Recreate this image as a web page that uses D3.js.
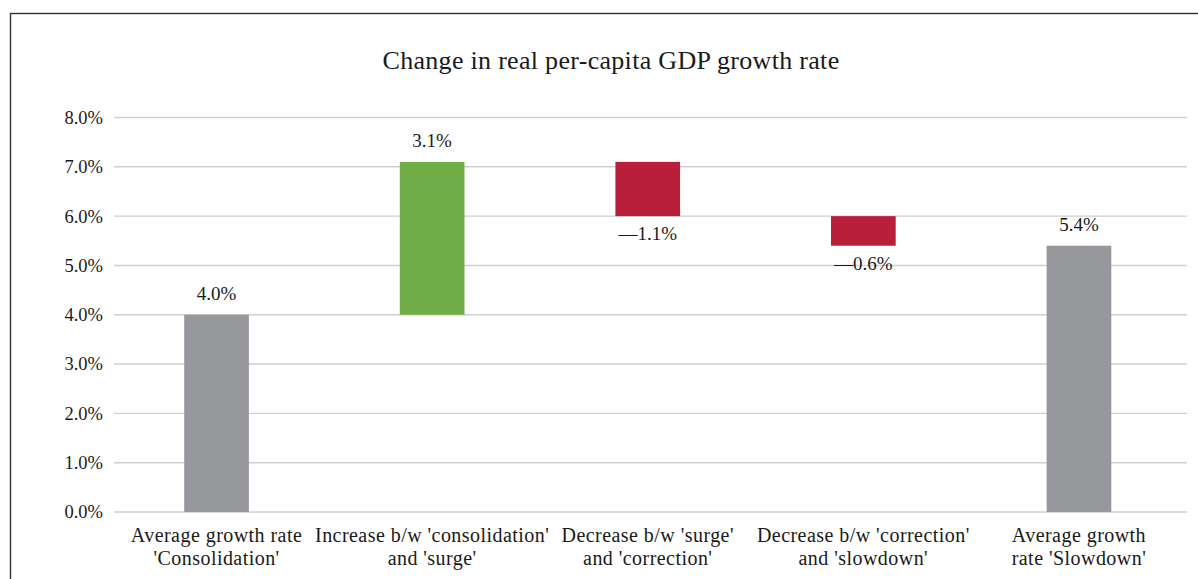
<!DOCTYPE html>
<html>
<head>
<meta charset="utf-8">
<script src="https://cdn.jsdelivr.net/npm/d3@7"></script>
<style>
  html, body { margin: 0; padding: 0; background: #fff; }
  svg { display: block; }
  text { font-family: "Liberation Serif", "DejaVu Serif", serif; fill: #1a1a1a; }
</style>
</head>
<body>
<svg id="chart" width="1198" height="579"></svg>
<script>
// Waterfall: change in real per-capita GDP growth rate between phases
const categories = [
  ["Average growth rate", "'Consolidation'"],
  ["Increase b/w 'consolidation'", "and 'surge'"],
  ["Decrease b/w 'surge'", "and 'correction'"],
  ["Decrease b/w 'correction'", "and 'slowdown'"],
  ["Average growth", "rate 'Slowdown'"]
];
const changes = [4.0, 3.1, -1.1, -0.6, 5.4];
const kinds = ["total", "step", "step", "step", "total"];
const labels = ["4.0%", "3.1%", "\u20141.1%", "\u20140.6%", "5.4%"];
const yTicks = [0, 1, 2, 3, 4, 5, 6, 7, 8];
const title = "Change in real per-capita GDP growth rate";

const colors = { total: "#97989c", up: "#70ad47", down: "#b91f3a" };

// Build floating segments from running total
let running = 0;
const bars = changes.map((v, i) => {
  let lo, hi, type;
  if (kinds[i] === "total") {
    lo = 0; hi = v; running = v; type = "total";
  } else {
    const start = running;
    running = start + v;
    lo = Math.min(start, running); hi = Math.max(start, running);
    type = v >= 0 ? "up" : "down";
  }
  return { i, lo, hi, v, type, label: labels[i], cat: categories[i] };
});

const svg = d3.select("#chart");

// Outer frame
svg.append("rect")
  .attr("x", 10.5).attr("y", 13.5)
  .attr("width", 1198).attr("height", 600)
  .attr("fill", "none").attr("stroke", "#333").attr("stroke-width", 1.4);

const x = d3.scaleBand()
  .domain(d3.range(categories.length))
  .range([108.75, 1186.75])
  .paddingInner(0.7).paddingOuter(0.35);

const y = d3.scaleLinear().domain([0, 8]).range([512, 117.5]);

// Title
svg.append("text")
  .attr("x", 611).attr("y", 68.5)
  .attr("text-anchor", "middle")
  .attr("font-size", 26)
  .attr("letter-spacing", 0.3)
  .text(title);

// Gridlines
svg.append("g").selectAll("line")
  .data(yTicks).join("line")
  .attr("x1", 114).attr("x2", 1187)
  .attr("y1", d => y(d)).attr("y2", d => y(d))
  .attr("stroke", "#cfcfcf").attr("stroke-width", 1.4);

// Y axis labels
const yAxis = d3.axisLeft(y)
  .tickValues(yTicks)
  .tickFormat(d => d3.format(".1f")(d) + "%")
  .tickSize(0).tickPadding(0);
const ga = svg.append("g").attr("transform", "translate(103,0)").call(yAxis);
ga.select(".domain").remove();
ga.selectAll("text")
  .attr("font-family", "Liberation Serif, DejaVu Serif, serif")
  .attr("font-size", 18.5).attr("fill", "#1a1a1a");

// Bars
svg.append("g").selectAll("rect")
  .data(bars).join("rect")
  .attr("x", d => x(d.i))
  .attr("width", x.bandwidth())
  .attr("y", d => y(d.hi))
  .attr("height", d => y(d.lo) - y(d.hi))
  .attr("fill", d => colors[d.type]);

// Value labels
svg.append("g").selectAll("text")
  .data(bars).join("text")
  .attr("x", d => x(d.i) + x.bandwidth() / 2)
  .attr("y", d => d.type === "down" ? y(d.lo) + 24 : y(d.hi) - 15)
  .attr("text-anchor", "middle")
  .attr("font-size", 19)
  .text(d => d.label);

// Category labels (two lines)
const cat = svg.append("g").selectAll("text")
  .data(bars).join("text")
  .attr("text-anchor", "middle")
  .attr("font-size", 20)
  .attr("letter-spacing", 0.45);
cat.selectAll("tspan")
  .data(d => d.cat.map(s => ({ s, cx: x(d.i) + x.bandwidth() / 2 })))
  .join("tspan")
  .attr("x", d => d.cx)
  .attr("y", (d, j) => 541.5 + j * 23.5)
  .text(d => d.s);
</script>
</body>
</html>
